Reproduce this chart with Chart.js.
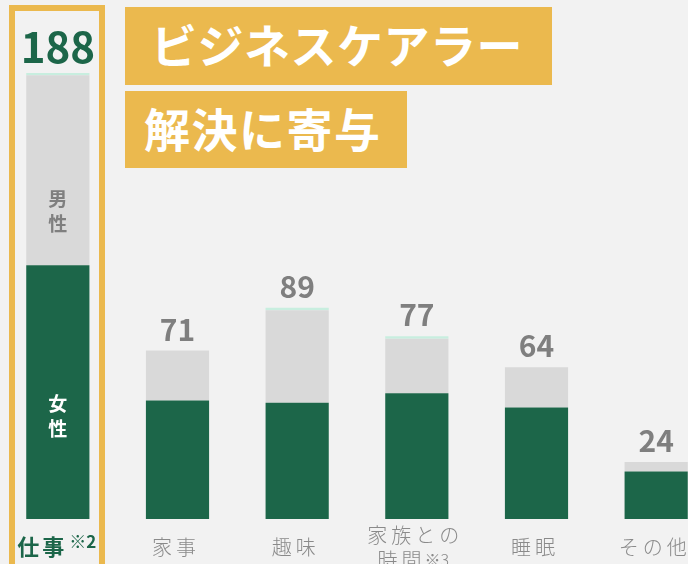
<!DOCTYPE html>
<html lang="ja">
<head>
<meta charset="UTF-8">
<title>ビジネスケアラー 解決に寄与</title>
<script src="https://cdn.jsdelivr.net/npm/chart.js"></script>
<style>
  html, body {
    margin: 0;
    padding: 0;
    width: 688px;
    height: 564px;
    overflow: hidden;
    background: #f2f2f2;
    font-family: "Noto Sans CJK JP", "Noto Sans", sans-serif;
  }
  #chartBox {
    position: absolute;
    left: -2px;
    top: 0;
    width: 718px;
    height: 564px;
  }
  .title-box {
    position: absolute;
    left: 125px;
    background: #ebb94e;
    color: #fff;
    font-weight: 700;
    font-size: 46px;
    line-height: 1;
    display: flex;
    align-items: center;
    box-sizing: border-box;
    white-space: nowrap;
  }
  #title1 { top: 7px; width: 427px; height: 78px; padding-left: 26px; letter-spacing: 0.5px; padding-bottom: 6px; }
  #title2 { top: 91px; width: 282px; height: 77px; padding-left: 19px; letter-spacing: 1.5px; padding-bottom: 5px; }
  /* 仕事の強調枠 */
  #highlight {
    position: absolute;
    left: 9px;
    top: 5px;
    width: 96px;
    height: 580px;
    border: 6px solid #ebb94e;
    box-sizing: border-box;
  }
</style>
</head>
<body>
<div id="chartBox"><canvas id="chart"></canvas></div>
<div id="highlight"></div>
<div class="title-box" id="title1">ビジネスケアラー</div>
<div class="title-box" id="title2">解決に寄与</div>

<script>
  // データ
  const categories = ['仕事', '家事', '趣味', ['家族との', '時間'], '睡眠', 'その他'];
  const notes = ['※2', '', '', '※3', '', ''];
  const totals = [188, 71, 89, 77, 64, 24];
  const female = [107, 50, 49, 53, 47, 20];
  const male = [80, 21, 39, 23, 17, 4];
  const other = [1, 0, 1, 1, 0, 0];

  const GREEN = '#1c6649';
  const GRAY = '#7f7f7f';
  const FONT = '"Noto Sans CJK JP", "Noto Sans", sans-serif';

  // 1文字ずつ字間をあけて描く
  function spacedWidth(ctx, text, spacing) {
    let w = 0;
    for (const ch of text) w += ctx.measureText(ch).width + spacing;
    return w - spacing;
  }
  function drawSpaced(ctx, text, x, y, spacing) {
    let cx = x;
    for (const ch of text) {
      ctx.fillText(ch, cx, y);
      cx += ctx.measureText(ch).width + spacing;
    }
    return cx - spacing;
  }

  const labelPlugin = {
    id: 'labels',
    afterDatasetsDraw(chart) {
      const ctx = chart.ctx;
      const xs = chart.scales.x;
      const ys = chart.scales.y;
      ctx.save();
      ctx.textBaseline = 'alphabetic';

      totals.forEach((t, i) => {
        const x = xs.getPixelForValue(i);
        const top = ys.getPixelForValue(t);
        // 合計値
        ctx.textAlign = 'center';
        if (i === 0) {
          ctx.fillStyle = GREEN;
          ctx.font = '700 42px ' + FONT;
        } else {
          ctx.fillStyle = GRAY;
          ctx.font = '700 30px ' + FONT;
        }
        ctx.fillText(String(t), x, top - 10);

        // カテゴリ名
        const lines = Array.isArray(categories[i]) ? categories[i] : [categories[i]];
        const baseY = lines.length > 1 ? 542.5 : 555;
        const cx = i === 0 ? x - 1 : x - 3.5;
        lines.forEach((line, li) => {
          const isLast = li === lines.length - 1;
          const note = isLast ? notes[i] : '';
          const y = baseY + li * 25;
          const mainFont = i === 0 ? '700 22px ' + FONT : '300 20px ' + FONT;
          const noteFont = i === 0 ? '700 17px ' + FONT : '300 16px ' + FONT;
          const sp = i === 0 ? 3 : 4;
          const gap = i === 0 ? 5 : 3;
          ctx.font = mainFont;
          const w1 = spacedWidth(ctx, line, sp);
          ctx.font = noteFont;
          const w2 = note ? ctx.measureText(note).width + gap : 0;
          const sx = cx - (w1 + w2) / 2;
          ctx.textAlign = 'left';
          ctx.fillStyle = i === 0 ? GREEN : '#8a8a8a';
          ctx.font = mainFont;
          const ex = drawSpaced(ctx, line, sx, y, sp);
          if (note) {
            ctx.font = noteFont;
            ctx.fillText(note, ex + gap, i === 0 ? y - 7 : y - 2);
          }
        });
      });

      // 仕事の棒の中の「男性」「女性」
      const x0 = xs.getPixelForValue(0);
      ctx.textAlign = 'center';
      ctx.textBaseline = 'middle';
      ctx.font = '700 19px ' + FONT;
      ctx.fillStyle = GRAY;
      ctx.fillText('男', x0, 199);
      ctx.fillText('性', x0, 224);
      ctx.fillStyle = '#ffffff';
      ctx.fillText('女', x0, 404);
      ctx.fillText('性', x0, 429);
      ctx.restore();
    }
  };

  const ctx = document.getElementById('chart').getContext('2d');
  new Chart(ctx, {
    type: 'bar',
    data: {
      labels: categories,
      datasets: [
        { label: '女性', data: female, backgroundColor: GREEN },
        { label: '男性', data: male, backgroundColor: '#d9d9d9' },
        { label: 'その他', data: other, backgroundColor: '#c8eedf' }
      ]
    },
    options: {
      responsive: true,
      maintainAspectRatio: false,
      animation: false,
      layout: { padding: { top: 44.5, bottom: 45, left: 0, right: 0 } },
      datasets: {
        bar: { categoryPercentage: 1, barPercentage: 0.528, borderWidth: 0 }
      },
      plugins: {
        legend: { display: false },
        tooltip: { enabled: false }
      },
      scales: {
        x: { stacked: true, display: false },
        y: { stacked: true, display: false, min: 0, max: 200 }
      }
    },
    plugins: [labelPlugin]
  });
</script>
</body>
</html>
